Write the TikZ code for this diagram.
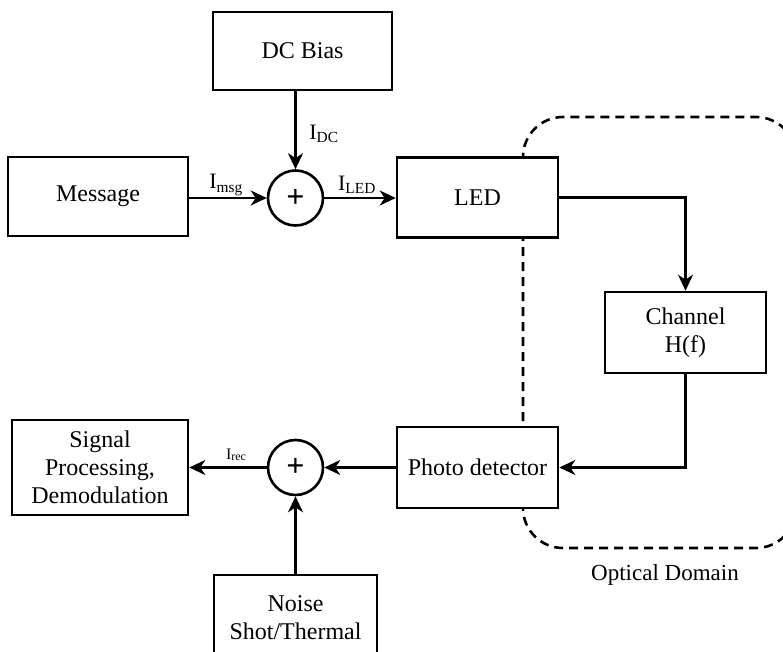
\documentclass[tikz,border=0pt]{standalone}
\usepackage{fontspec}
\setmainfont{Liberation Serif}
\usetikzlibrary{arrows.meta}
\begin{document}
\begin{tikzpicture}[x=1pt,y=-1pt,
  blk/.style={draw, line width=2.6pt, fill=white, align=center, font=\fontsize{24}{28}\selectfont, inner sep=0pt},
  sumnode/.style={draw, circle, fill=white, line width=2.6pt, minimum size=55pt, inner sep=0pt, font=\fontsize{32}{32}\selectfont\bfseries},
  conn/.style={line width=2.6pt, -{Stealth[length=16pt,width=15pt,inset=5pt]}},
  lbl/.style={font=\fontsize{22}{24}\selectfont, inner sep=0pt},
  domainline/.style={line width=2.6pt, dash pattern=on 9pt off 6pt, rounded corners=40pt}
]
\clip (0,0) rectangle (783,652);
\fill[white] (0,0) rectangle (783,652);
% optical domain
\draw[domainline] (523,117) rectangle (796,548);
\node[font=\fontsize{23}{28}\selectfont, inner sep=0pt] (optlbl) at (665,575) {Optical Domain};
% blocks
\node[blk, minimum width=179pt, minimum height=78pt] (dc) at (302.5,51) {DC Bias};
\node[blk, minimum width=180pt, minimum height=79pt] (msg) at (98,196.5) {Message};
\node[blk, minimum width=161pt, minimum height=80pt] (led) at (477.5,197.5) {LED};
\node[blk, minimum width=161pt, minimum height=81pt] (ch) at (685.5,332.5) {Channel\\H(f)};
\node[blk, minimum width=161pt, minimum height=81pt] (pd) at (477.5,467.5) {Photo detector};
\node[blk, minimum width=176pt, minimum height=95pt] (sig) at (100,467.5) {Signal\\Processing,\\Demodulation};
\node[blk, minimum width=163pt, minimum height=86pt] (noise) at (295.5,618) {Noise\\Shot/Thermal};
\node[sumnode] (s1) at (295.5,198) {+};
\node[sumnode] (s2) at (295.5,467.5) {+};
% connectors
\draw[conn] (dc.south -| s1) -- (s1.north);
\draw[conn] (msg.east |- s1) -- (s1.west);
\draw[conn] (s1.east) -- (led.west |- s1);
\draw[conn] (led.east) -| (ch.north);
\draw[conn] (ch.south) |- (pd.east);
\draw[conn] (pd.west) -- (s2.east);
\draw[conn] (s2.west) -- (sig.east |- s2);
\draw[conn] (noise.north) -- (s2.south);
% labels
\node[lbl] (ldc) at (324,134) {I\textsubscript{DC}};
\node[lbl] (lmsg) at (226,185) {I\textsubscript{msg}};
\node[lbl] (lled) at (357,185) {I\textsubscript{LED}};
\node[inner sep=0pt] (lrec) at (236,455) {\fontsize{16}{18}\selectfont I\raisebox{-1pt}{\fontsize{12}{14}\selectfont rec}};
\end{tikzpicture}
\end{document}
